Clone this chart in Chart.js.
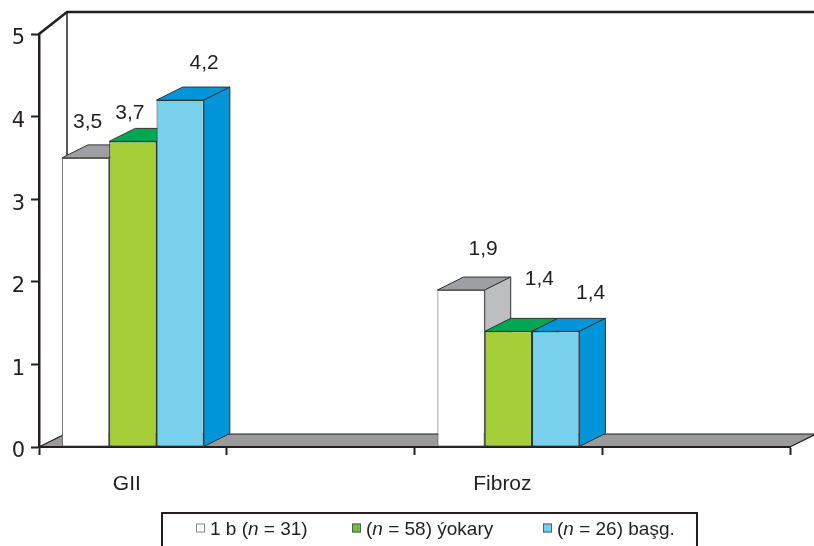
<!DOCTYPE html>
<html>
<head>
<meta charset="utf-8">
<style>
  html, body { margin: 0; padding: 0; background: #ffffff; }
  #wrap { width: 814px; height: 546px; position: relative; overflow: hidden; }
</style>
<script src="https://cdn.jsdelivr.net/npm/chart.js@4/dist/chart.umd.min.js"></script>
</head>
<body>
<div id="wrap"><canvas id="chart" width="814" height="546"></canvas></div>
<script>
// Categories (the second and fourth slots are empty spacers on the axis)
const categories = ['GII', '', 'Fibroz', ''];
const seriesNames = ['1 b (n = 31)', '(n = 58) ýokary', '(n = 26) başg.'];
const values1b = [3.5, null, 1.9, null];
const valuesYokary = [3.7, null, 1.4, null];
const valuesBasg = [4.2, null, 1.4, null];
const yTickValues = [0, 1, 2, 3, 4, 5];

const INK = '#231f20';
const FONT = "'Liberation Sans', Arial, Helvetica, sans-serif";
const TICK_FONT = "'DejaVu Sans', 'Liberation Sans', Arial, sans-serif";

// Front / top / side colours of each series' 3D bars
const frontColors = ['#ffffff', '#a6ce39', '#78d0ec'];
const topColors = ['#9d9fa2', '#00a651', '#0095d9'];
const sideColors = ['#bcbec0', '#00a651', '#0095d9'];
const legendSwatches = ['#ffffff', '#6fbe44', '#6dcff6'];

// Value label nudges relative to the bar's top centre, per series per category
const labelNudge = [
  [[2, -37], null, [22, -43], null],
  [[-3, -30], null, [31, -54], null],
  [[24, -39], null, [35, -40], null]
];

const barDepth = { dx: 26, dy: -13 };
const wallDepth = { dx: 28, dy: -22 };

function poly(ctx, pts, fill, stroke, lw) {
  ctx.beginPath();
  ctx.moveTo(pts[0][0], pts[0][1]);
  for (let i = 1; i < pts.length; i++) ctx.lineTo(pts[i][0], pts[i][1]);
  ctx.closePath();
  if (fill) { ctx.fillStyle = fill; ctx.fill(); }
  if (stroke) { ctx.strokeStyle = stroke; ctx.lineWidth = lw || 1; ctx.stroke(); }
}

// Back wall outline and grey floor, drawn before the axes
const scenePlugin = {
  id: 'scene3d',
  beforeDraw(chart) {
    const ctx = chart.ctx;
    const a = chart.chartArea;
    const yTop = chart.scales.y.getPixelForValue(5);
    const yBase = chart.scales.y.getPixelForValue(0);
    ctx.save();
    // back wall
    ctx.strokeStyle = INK;
    ctx.lineCap = 'butt';
    ctx.lineWidth = 2.5;
    ctx.beginPath();
    ctx.moveTo(a.left, yTop);
    ctx.lineTo(a.left + wallDepth.dx, yTop + wallDepth.dy);
    ctx.lineTo(chart.width + 5, yTop + wallDepth.dy);
    ctx.stroke();
    ctx.lineWidth = 1.5;
    ctx.beginPath();
    ctx.moveTo(a.left + wallDepth.dx, yTop + wallDepth.dy);
    ctx.lineTo(a.left + wallDepth.dx, yBase + barDepth.dy);
    ctx.stroke();
    // floor
    poly(ctx, [
      [a.left, yBase], [a.right, yBase],
      [a.right + barDepth.dx, yBase + barDepth.dy],
      [a.left + barDepth.dx, yBase + barDepth.dy]
    ], '#9a9a9a', INK, 1.2);
    ctx.restore();
  },
  beforeDatasetsDraw(chart) {
    // top and side faces of the bars, left to right so nearer faces overlap
    const ctx = chart.ctx;
    const dx = barDepth.dx, dy = barDepth.dy;
    ctx.save();
    ctx.lineJoin = 'round';
    for (let i = 0; i < categories.length; i++) {
      chart.data.datasets.forEach((ds, d) => {
        const v = ds.data[i];
        if (v === null || v === undefined) return;
        const el = chart.getDatasetMeta(d).data[i];
        const l = el.x - el.width / 2, r = el.x + el.width / 2;
        const t = el.y, b = el.base;
        poly(ctx, [[l, t], [r, t], [r + dx, t + dy], [l + dx, t + dy]], topColors[d], '#333333', 1);
        poly(ctx, [[r, t], [r + dx, t + dy], [r + dx, b + dy], [r, b]], sideColors[d], '#333333', 1);
      });
    }
    ctx.restore();
  },
  afterDatasetsDraw(chart) {
    // value labels with a decimal comma
    const ctx = chart.ctx;
    const size = 21;
    ctx.save();
    ctx.font = size + 'px ' + FONT;
    ctx.fillStyle = INK;
    ctx.textAlign = 'center';
    ctx.textBaseline = 'alphabetic';
    chart.data.datasets.forEach((ds, d) => {
      ds.data.forEach((v, i) => {
        if (v === null || v === undefined) return;
        const el = chart.getDatasetMeta(d).data[i];
        const n = labelNudge[d][i] || [0, -36];
        ctx.fillText(String(v).replace('.', ','), el.x + n[0], el.y + n[1] + size * 0.36);
      });
    });
    ctx.restore();
  }
};

// Boxed legend at the foot of the chart, with the italic "n"
const legendPlugin = {
  id: 'boxLegend',
  afterDraw(chart) {
    const ctx = chart.ctx;
    const box = { left: 162, top: 513, right: 697, bottom: 570 };
    const itemX = [196, 352, 543];
    const sq = 9, cy = 528, size = 19;
    ctx.save();
    ctx.strokeStyle = INK;
    ctx.lineWidth = 2;
    ctx.strokeRect(box.left, box.top, box.right - box.left, box.bottom - box.top);
    chart.data.datasets.forEach((ds, d) => {
      const x = itemX[d];
      ctx.fillStyle = legendSwatches[d];
      ctx.fillRect(x, cy - sq / 2, sq, sq);
      ctx.strokeStyle = d === 0 ? '#8a8a8a' : '#5a5a5a';
      ctx.lineWidth = 1;
      ctx.strokeRect(x + 0.5, cy - sq / 2 + 0.5, sq - 1, sq - 1);
      let tx = x + sq + 5;
      const parts = ds.label.split(/(\bn\b)/);
      ctx.fillStyle = INK;
      ctx.textBaseline = 'alphabetic';
      ctx.textAlign = 'left';
      parts.forEach(p => {
        if (!p) return;
        ctx.font = (p === 'n' ? 'italic ' : '') + size + 'px ' + FONT;
        ctx.fillText(p, tx, cy + size * 0.36);
        tx += ctx.measureText(p).width;
      });
    });
    ctx.restore();
  }
};

const datasets = [values1b, valuesYokary, valuesBasg].map((vals, d) => ({
  label: seriesNames[d],
  data: vals,
  backgroundColor: frontColors[d],
  borderColor: d === 0 ? '#5a5a5a' : '#333333',
  borderWidth: 1,
  borderSkipped: false,
  categoryPercentage: 0.756,
  barPercentage: 1.0
}));

new Chart(document.getElementById('chart'), {
  type: 'bar',
  data: { labels: categories, datasets },
  plugins: [scenePlugin, legendPlugin],
  options: {
    responsive: false,
    devicePixelRatio: 1,
    animation: false,
    layout: { padding: { top: 34, right: 24, left: 0, bottom: 0 } },
    plugins: { legend: { display: false }, tooltip: { enabled: false } },
    scales: {
      x: {
        type: 'category',
        offset: true,
        z: 1,
        grid: { offset: true, drawOnChartArea: false, tickLength: 8, tickWidth: 2, tickColor: INK },
        border: { display: true, width: 2, color: INK },
        ticks: { font: { size: 21, family: FONT }, color: INK, padding: 17, maxRotation: 0, labelOffset: -6 },
        afterFit(s) { s.height = 99; }
      },
      y: {
        min: 0,
        max: 5,
        z: 1,
        afterBuildTicks(s) { s.ticks = yTickValues.map(v => ({ value: v })); },
        grid: { drawOnChartArea: false, tickLength: 8, tickWidth: 2, tickColor: INK },
        border: { display: true, width: 2.5, color: INK },
        ticks: { font: { size: 21, family: TICK_FONT }, color: INK, padding: 6, labelOffset: 5 },
        afterFit(s) { s.width = 39; }
      }
    }
  }
});
</script>
</body>
</html>
